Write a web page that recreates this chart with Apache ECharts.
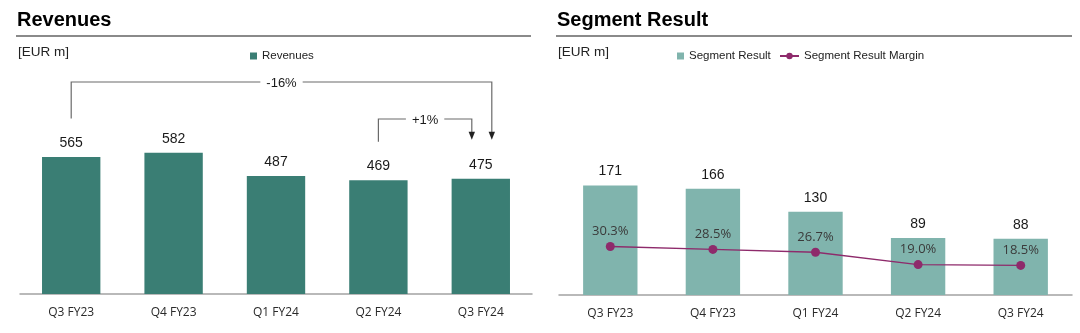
<!DOCTYPE html>
<html><head><meta charset="utf-8">
<script src="https://cdn.jsdelivr.net/npm/echarts@6/dist/echarts.min.js"></script>
<style>html,body{margin:0;padding:0;background:#fff}#c{width:1080px;height:333px}</style>
</head><body><div id="c"></div>
<script>
// ---- data ----
const categories = ['Q3 FY23', 'Q4 FY23', 'Q1 FY24', 'Q2 FY24', 'Q3 FY24'];
const revenues = [565, 582, 487, 469, 475];
const segmentResult = [171, 166, 130, 89, 88];
const segmentMargin = [30.3, 28.5, 26.7, 19.0, 18.5];
const revenueChanges = [
  { from: 0, to: 4, label: '-16%' },
  { from: 3, to: 4, label: '+1%' }
];

const chart = echarts.init(document.getElementById('c'), null, { renderer: 'canvas' });
const AR = '"Liberation Sans", Arial, sans-serif';
const OS = '"Open Sans", "Noto Sans", sans-serif';

const xAxisCommon = {
  type: 'category', data: categories,
  axisLine: { lineStyle: { color: '#a3a3a3', width: 1.5 } },
  axisTick: { show: false },
  axisLabel: { margin: 13, fontSize: 12, color: '#2a2a2a', fontFamily: OS }
};

chart.setOption({
  animation: false,
  textStyle: { fontFamily: AR },
  grid: [
    { left: 20, width: 512, top: 100, height: 194 },
    { left: 559, width: 513, top: 103, height: 192 }
  ],
  xAxis: [
    Object.assign({ gridIndex: 0 }, xAxisCommon),
    Object.assign({ gridIndex: 1 }, xAxisCommon)
  ],
  yAxis: [
    { gridIndex: 0, type: 'value', min: 0, max: 800, show: false },
    { gridIndex: 1, type: 'value', min: 0, max: 300, show: false },
    { gridIndex: 1, type: 'value', min: 0, max: 120, show: false }
  ],
  legend: [
    { data: ['Revenues'], left: 245, top: 45, icon: 'rect', itemWidth: 7, itemHeight: 7,
      textStyle: { fontSize: 11.5, color: '#222', fontFamily: AR } },
    { data: ['Segment Result'], left: 672, top: 45, icon: 'rect', itemWidth: 7, itemHeight: 7,
      textStyle: { fontSize: 11.5, color: '#222', fontFamily: AR } },
    { data: ['Segment Result Margin'], left: 774, top: 45, itemWidth: 19, itemHeight: 8,
      textStyle: { fontSize: 11.5, color: '#222', fontFamily: AR } }
  ],
  series: [
    { name: 'Revenues', type: 'bar', xAxisIndex: 0, yAxisIndex: 0, data: revenues,
      barWidth: '57%', itemStyle: { color: '#3a7e74' },
      label: { show: true, position: 'top', distance: 7, fontSize: 14, color: '#1a1a1a', fontFamily: AR } },
    { name: 'Segment Result', type: 'bar', xAxisIndex: 1, yAxisIndex: 1, data: segmentResult,
      barWidth: '53%', itemStyle: { color: '#80b4ad' },
      label: { show: true, position: 'top', distance: 7, fontSize: 14, color: '#1a1a1a', fontFamily: AR } },
    { name: 'Segment Result Margin', type: 'line', xAxisIndex: 1, yAxisIndex: 2, data: segmentMargin,
      symbol: 'circle', symbolSize: 9, z: 5,
      itemStyle: { color: '#8e2a6b' }, lineStyle: { color: '#8e2a6b', width: 1.4 },
      label: { show: true, position: 'top', distance: 4, fontSize: 13, color: '#3a3a3a', fontFamily: OS,
        formatter: p => p.value.toFixed(1) + '%' } }
  ]
});

// ---- static text & rules ----
const g = [];
[[16, 531, 'Revenues'], [556, 1072, 'Segment Result']].forEach(([x1, x2, t]) => {
  g.push({ type: 'text', left: x1 + 1, top: 10.5, style: { text: t, font: 'bold 20px ' + AR, fill: '#000' } });
  g.push({ type: 'line', shape: { x1: x1, y1: 36, x2: x2, y2: 36 }, style: { stroke: '#8a8a8a', lineWidth: 2 } });
  g.push({ type: 'text', x: x1 + 2, y: 52, style: { text: '[EUR m]', font: '13.5px ' + AR, fill: '#222', textVerticalAlign: 'middle' } });
});

// ---- change brackets (positions derived from the bars) ----
const levels = [82, 119];      // bracket heights (px)
const endShift = [11, -9];     // arrow horizontal offset from bar centre
revenueChanges.forEach((c, k) => {
  const p0 = chart.convertToPixel({ gridIndex: 0 }, [c.from, revenues[c.from]]);
  const p1 = chart.convertToPixel({ gridIndex: 0 }, [c.to, revenues[c.to]]);
  const xa = p0[0], xb = p1[0] + endShift[k];
  const yl = levels[k];
  const yStart = p0[1] - 38.5;
  const yEnd = p1[1] - 39;
  g.push({ type: 'polyline', shape: { points: [[xa, yStart], [xa, yl], [xb, yl], [xb, yEnd - 7]] },
    style: { stroke: '#6a6a6a', lineWidth: 1.2, fill: null } });
  g.push({ type: 'polygon', shape: { points: [[xb - 3.2, yEnd - 8], [xb + 3.2, yEnd - 8], [xb, yEnd]] },
    style: { fill: '#222' } });
  g.push({ type: 'text', x: (xa + xb) / 2, y: yl + 1, z: 10,
    style: { text: c.label, font: '13px ' + AR, fill: '#1a1a1a', align: 'center', verticalAlign: 'middle',
      textAlign: 'center', textVerticalAlign: 'middle', backgroundColor: '#fff', padding: [0, 6] } });
});
chart.setOption({ graphic: g });
</script></body></html>
